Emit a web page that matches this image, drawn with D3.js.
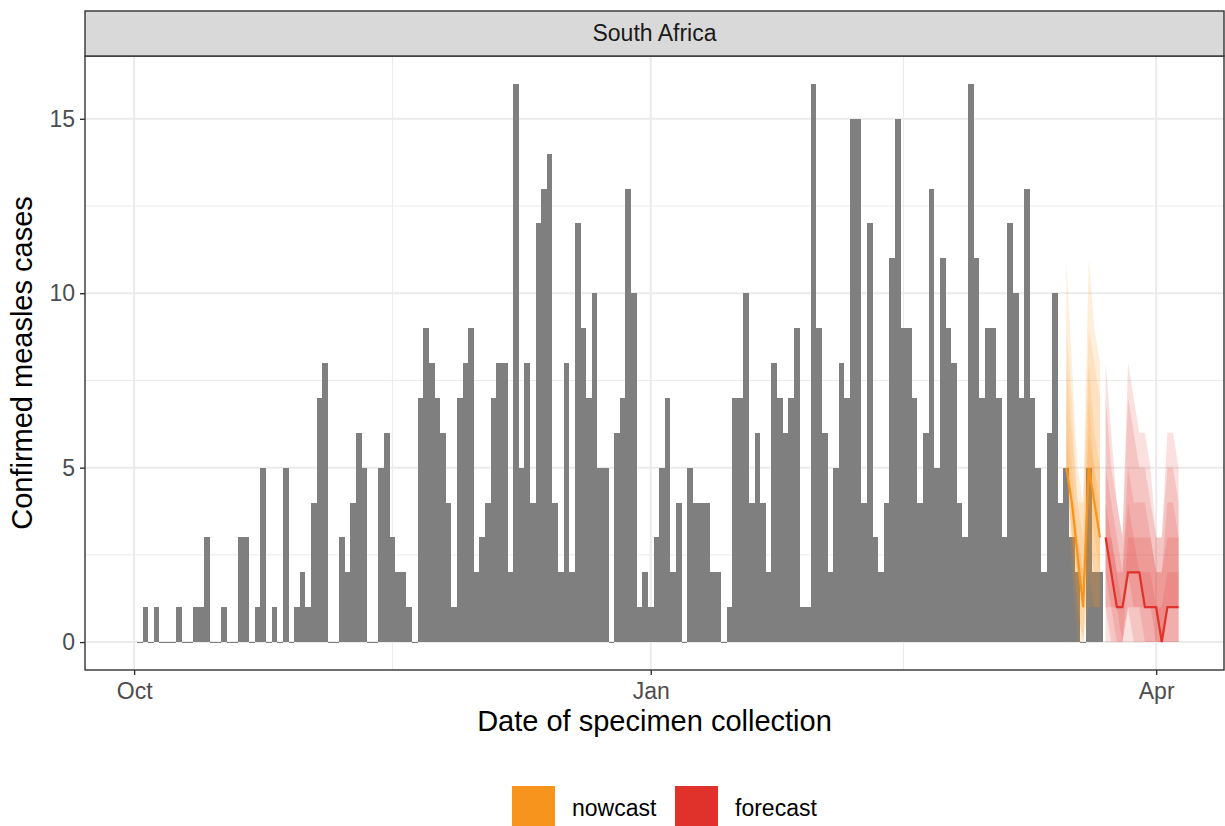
<!DOCTYPE html>
<html>
<head>
<meta charset="utf-8">
<script src="https://cdn.jsdelivr.net/npm/d3@7"></script>
<style>
  body { margin: 0; background: #fff; }
  text { font-family: "Liberation Sans", Arial, sans-serif; }
</style>
</head>
<body>
<script>
// observed daily confirmed cases, starting 2024-10-02
var obsStart = "2024-10-02";
var observed = [
  0, 1, 0, 1, 0, 0, 0, 1, 0, 0, 1, 1, 3, 0, 0, 1, 0, 0, 3, 3, 0, 1,
  5, 0, 1, 0, 5, 0, 1, 2, 1, 4, 7, 8, 0, 0, 3, 2, 4, 6, 5, 0, 0, 5, 6,
  3, 2, 2, 1, 0, 7, 9, 8, 7, 6, 4, 1, 7, 8, 9, 2, 3, 4, 7, 8, 8, 2,
  16, 5, 8, 4, 12, 13, 14, 4, 2, 8, 2, 12, 9, 7, 10, 5, 5, 0, 6, 7, 13, 10,
  1, 2, 1, 3, 5, 7, 2, 4, 0, 5, 4, 4, 4, 2, 2, 0, 1, 7, 7, 10, 4, 6,
  4, 2, 8, 7, 6, 7, 9, 1, 1, 16, 9, 6, 2, 5, 8, 7, 15, 15, 4, 12, 3, 2, 4,
  11, 15, 9, 9, 7, 4, 6, 13, 5, 11, 9, 8, 4, 3, 16, 11, 7, 9, 9, 7, 3, 12,
  10, 7, 13, 7, 5, 2, 6, 10, 4, 5, 3, 2, 0, 5, 2, 2
];

// nowcast (2025-03-16 .. 2025-03-22)
var nowStart = "2025-03-16";
var nowMed  = [5, 4, 2.5, 1, 5, 4, 3];
var nowHi90 = [11, 8, 5, 4, 11, 9, 8];
var nowHi80 = [9, 7, 4, 4, 9, 8, 7];
var nowHi60 = [8, 6, 4, 3, 8, 6, 5];
var nowHi40 = [7, 5, 3, 2, 7, 5, 4];
var nowHi20 = [6, 4, 3, 2, 6, 5, 3];
var nowLo20 = [5, 4, 2, 1, 5, 4, 3];
var nowLo40 = [5, 3, 2, 1, 4, 3, 2];
var nowLo60 = [5, 3, 1, 0, 3, 2, 2];
var nowLo80 = [5, 3, 1, 0, 2, 1, 1];
var nowLo90 = [5, 2, 0, 0, 1, 1, 1];

// forecast (2025-03-23 .. 2025-04-05)
var fcStart = "2025-03-23";
var fcMed  = [3, 2, 1, 1, 2, 2, 2, 1, 1, 1, 0, 1, 1, 1];
var fcHi90 = [8, 6, 4, 3, 8, 7, 6, 6, 5, 3, 3, 6, 6, 5];
var fcHi80 = [7, 5, 4, 3, 7, 6, 5, 5, 4, 3, 3, 5, 5, 4];
var fcHi60 = [5, 4, 3, 2, 5, 4, 4, 4, 3, 2, 2, 4, 4, 3];
var fcHi40 = [4, 3, 2, 2, 4, 3, 3, 3, 3, 2, 2, 3, 3, 3];
var fcHi20 = [3, 3, 2, 1, 3, 3, 2, 2, 2, 1, 1, 2, 2, 2];
var fcLo20 = [3, 2, 1, 1, 2, 2, 2, 1, 1, 1, 0, 1, 1, 1];
var fcLo40 = [2, 1, 1, 0, 2, 1, 1, 1, 1, 0, 0, 1, 1, 1];
var fcLo60 = [1, 1, 0, 0, 1, 1, 1, 0, 0, 0, 0, 0, 0, 0];
var fcLo80 = [1, 0, 0, 0, 1, 0, 0, 0, 0, 0, 0, 0, 0, 0];
var fcLo90 = [0, 0, 0, 0, 0, 0, 0, 0, 0, 0, 0, 0, 0, 0];

var yTicks = [0, 5, 10, 15];
var xTicks = ["2024-10-01", "2025-01-01", "2025-04-01"];
var xTickLabels = ["Oct", "Jan", "Apr"];
var legendKeys = ["nowcast", "forecast"];
var colors = {nowcast: "#F7941D", forecast: "#E0312A"};

var W = 1225, H = 826;
var panel = {left: 85, right: 1224, top: 56, bottom: 670};
var smallFont = "23px", titleFont = "29px";

var parse = d3.utcParse("%Y-%m-%d");
function days(start, arr) {
  var s = parse(start);
  return arr.map(function (v, i) { return d3.utcDay.offset(s, i); });
}

var obsDates = days(obsStart, observed);
var nowDates = days(nowStart, nowMed);
var fcDates = days(fcStart, fcMed);

// x range padded like ggplot's default expansion
var oct1 = parse(xTicks[0]);
var xScale = d3.scaleUtc()
  .domain([d3.utcHour.offset(oct1, -Math.round(8.73 * 24)), d3.utcHour.offset(oct1, Math.round(194.1 * 24))])
  .range([panel.left, panel.right]);

var yScale = d3.scaleLinear()
  .domain([-0.8, 16.8])
  .range([panel.bottom, panel.top]);

var svg = d3.select("body").append("svg")
  .attr("width", W)
  .attr("height", H);

// grid
var g = svg.append("g");
var minorY = [2.5, 7.5, 12.5];
g.selectAll(".ymin").data(minorY).enter().append("line")
  .attr("x1", panel.left).attr("x2", panel.right)
  .attr("y1", function (d) { return yScale(d); }).attr("y2", function (d) { return yScale(d); })
  .attr("stroke", "#EBEBEB").attr("stroke-width", 1);
var xTickDates = xTicks.map(parse);
var minorX = [];
for (var i = 0; i < xTickDates.length - 1; i++) {
  minorX.push(new Date((xTickDates[i].getTime() + xTickDates[i + 1].getTime()) / 2));
}
g.selectAll(".xmin").data(minorX).enter().append("line")
  .attr("x1", function (d) { return xScale(d); }).attr("x2", function (d) { return xScale(d); })
  .attr("y1", panel.top).attr("y2", panel.bottom)
  .attr("stroke", "#EBEBEB").attr("stroke-width", 1);
g.selectAll(".ymaj").data(yTicks).enter().append("line")
  .attr("x1", panel.left).attr("x2", panel.right)
  .attr("y1", function (d) { return yScale(d); }).attr("y2", function (d) { return yScale(d); })
  .attr("stroke", "#EBEBEB").attr("stroke-width", 2);
g.selectAll(".xmaj").data(xTickDates).enter().append("line")
  .attr("x1", function (d) { return xScale(d); }).attr("x2", function (d) { return xScale(d); })
  .attr("y1", panel.top).attr("y2", panel.bottom)
  .attr("stroke", "#EBEBEB").attr("stroke-width", 2);

// bars
var halfDay = 12;
svg.append("g").selectAll("rect")
  .data(observed)
  .enter()
  .append("rect")
  .attr("x", function (d, i) { return xScale(d3.utcHour.offset(obsDates[i], -halfDay)); })
  .attr("width", function (d, i) {
    return xScale(d3.utcHour.offset(obsDates[i], halfDay)) - xScale(d3.utcHour.offset(obsDates[i], -halfDay));
  })
  .attr("y", function (d) { return d > 0 ? yScale(d) : yScale(0) - 0.5; })
  .attr("height", function (d) { return d > 0 ? yScale(0) - yScale(d) : 1; })
  .attr("fill", "#7F7F7F")
  .attr("shape-rendering", "crispEdges");

// ribbons
function ribbons(dates, los, his, color) {
  var area = d3.area()
    .x(function (d, i) { return xScale(dates[i]); })
    .y0(function (d) { return yScale(d[0]); })
    .y1(function (d) { return yScale(d[1]); });
  var grp = svg.append("g");
  for (var k = 0; k < los.length; k++) {
    var pts = los[k].map(function (v, i) { return [v, his[k][i]]; });
    grp.append("path")
      .attr("d", area(pts))
      .attr("fill", color)
      .attr("fill-opacity", 0.15);
  }
}
ribbons(nowDates, [nowLo90, nowLo80, nowLo60, nowLo40, nowLo20],
  [nowHi90, nowHi80, nowHi60, nowHi40, nowHi20], colors.nowcast);
ribbons(fcDates, [fcLo90, fcLo80, fcLo60, fcLo40, fcLo20],
  [fcHi90, fcHi80, fcHi60, fcHi40, fcHi20], colors.forecast);

var line = d3.line()
  .x(function (d) { return xScale(d[0]); })
  .y(function (d) { return yScale(d[1]); });
svg.append("path")
  .attr("d", line(nowMed.map(function (v, i) { return [nowDates[i], v]; })))
  .attr("fill", "none").attr("stroke", colors.nowcast).attr("stroke-width", 2.2);
svg.append("path")
  .attr("d", line(fcMed.map(function (v, i) { return [fcDates[i], v]; })))
  .attr("fill", "none").attr("stroke", colors.forecast).attr("stroke-width", 2.2);

// panel border + strip
svg.append("rect")
  .attr("x", panel.left).attr("y", panel.top)
  .attr("width", panel.right - panel.left).attr("height", panel.bottom - panel.top)
  .attr("fill", "none").attr("stroke", "#333333").attr("stroke-width", 1.4);
svg.append("rect")
  .attr("x", panel.left).attr("y", 11)
  .attr("width", panel.right - panel.left).attr("height", panel.top - 11)
  .attr("fill", "#D9D9D9").attr("stroke", "#333333").attr("stroke-width", 1.4);
svg.append("text")
  .attr("x", (panel.left + panel.right) / 2).attr("y", 41)
  .attr("text-anchor", "middle")
  .attr("font-size", smallFont).attr("fill", "#1A1A1A")
  .text("South Africa");

// axes
var yAxis = d3.axisLeft(yScale).tickValues(yTicks).tickSize(5).tickPadding(5);
var yG = svg.append("g").attr("transform", "translate(" + panel.left + ",0)").call(yAxis);
var xAxis = d3.axisBottom(xScale).tickValues(xTickDates).tickSize(5).tickPadding(8)
  .tickFormat(function (d, i) { return xTickLabels[i]; });
var xG = svg.append("g").attr("transform", "translate(0," + panel.bottom + ")").call(xAxis);
[yG, xG].forEach(function (a) {
  a.select(".domain").remove();
  a.selectAll(".tick line").attr("stroke", "#333333").attr("stroke-width", 1.4);
  a.selectAll(".tick text").attr("fill", "#4D4D4D").attr("font-size", smallFont)
    .attr("font-family", "Liberation Sans, Arial, sans-serif");
});

svg.append("text")
  .attr("x", (panel.left + panel.right) / 2).attr("y", 731)
  .attr("text-anchor", "middle").attr("font-size", titleFont).attr("fill", "#000")
  .text("Date of specimen collection");
svg.append("text")
  .attr("transform", "translate(32," + ((panel.top + panel.bottom) / 2) + ") rotate(-90)")
  .attr("text-anchor", "middle").attr("font-size", titleFont).attr("fill", "#000")
  .text("Confirmed measles cases");

// legend
var legX = [512, 675];
var lg = svg.append("g");
legendKeys.forEach(function (k, i) {
  lg.append("rect")
    .attr("x", legX[i]).attr("y", 786)
    .attr("width", 43).attr("height", 43)
    .attr("fill", colors[k]);
  lg.append("text")
    .attr("x", legX[i] + 60).attr("y", 816)
    .attr("font-size", smallFont).attr("fill", "#000")
    .text(k);
});
</script>
</body>
</html>
